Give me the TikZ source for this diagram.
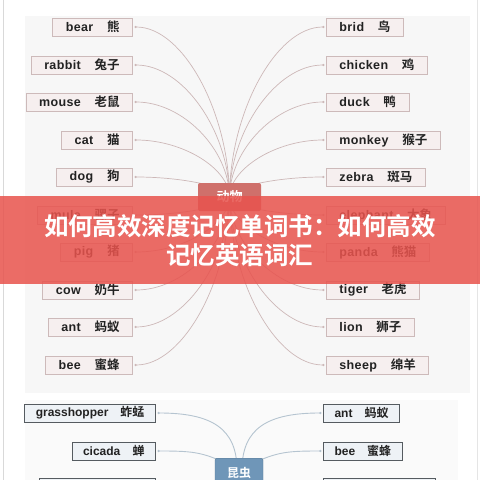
\documentclass[tikz,border=0pt]{standalone}
\usepackage{fontspec}
\setmainfont{Liberation Sans}
\newfontfamily\cjk{Noto Sans CJK SC}[BoldFont={Noto Sans CJK SC Bold}]
\newfontfamily\spaced{Liberation Sans}[LetterSpace=3]
\usetikzlibrary{arrows.meta}
\newcommand\lbl[2]{{\spaced\bfseries #1}\hspace{1.1em}{\cjk\bfseries #2}}
\newcommand\ilbl[2]{\textbf{#1}\hspace{1em}{\cjk\bfseries #2}}
\definecolor{boxfill}{HTML}{F6EFEF}
\definecolor{boxline}{HTML}{CDBABA}
\definecolor{connc}{HTML}{CDB8B8}
\definecolor{txt}{HTML}{222222}
\definecolor{hubfill}{HTML}{CF706B}
\definecolor{bannerc}{RGB}{232,84,78}
\definecolor{bfill}{HTML}{EEF2F6}
\definecolor{bline}{HTML}{555B60}
\definecolor{bconn}{HTML}{B5C4D0}
\definecolor{bluehub}{HTML}{6F96B8}
\pgfdeclarelayer{bg}
\pgfdeclarelayer{lines}
\pgfdeclarelayer{top}
\pgfsetlayers{bg,lines,main,top}
\tikzset{
  abox/.style={draw=boxline, fill=boxfill, line width=0.8pt, minimum height=18pt,
    inner xsep=13pt, inner ysep=0pt, font=\fontsize{12.5}{14}\selectfont, text=txt},
  ibox/.style={draw=bline, fill=bfill, line width=1pt, minimum height=18pt,
    inner xsep=11pt, inner ysep=0pt, font=\fontsize{12}{14}\selectfont, text=txt},
  conn/.style={draw=connc, line width=0.7pt, {Circle[length=2.2pt]}-, shorten <=1.5pt},
  iconn/.style={draw=bconn, line width=0.9pt, {Circle[length=2.2pt]}-, shorten <=1.5pt},
}
\begin{document}
\begin{tikzpicture}[x=1pt,y=-1pt]
\useasboundingbox (0,0) rectangle (480,480);
\clip (0,0) rectangle (480,480);
\begin{pgfonlayer}{bg}
  \fill[white] (0,0) rectangle (480,480);
  \fill[black!3] (25,16) rectangle (470,393);
  \fill[black!2] (25,400) rectangle (458,480);
  \draw[black!15, line width=1pt] (3,0) -- (3,480);
  \draw[black!10, line width=1pt] (477,0) -- (477,480);
\end{pgfonlayer}

% hub
\node[fill=hubfill, rounded corners=2pt, minimum width=63pt, minimum height=28pt,
  text=white, font=\cjk\bfseries\fontsize{13}{15}\selectfont] (hub) at (229.5,197) {动物};

% left boxes
\node[abox, anchor=east] (bear) at (133,27) {\lbl{bear}{熊}};
\node[abox, anchor=east] (rabbit) at (133,65) {\lbl{rabbit}{兔子}};
\node[abox, anchor=east] (mouse) at (133,102) {\lbl{mouse}{老鼠}};
\node[abox, anchor=east] (cat) at (133,140) {\lbl{cat}{猫}};
\node[abox, anchor=east] (dog) at (133,177) {\lbl{dog}{狗}};
\node[abox, anchor=east] (mule) at (133,215) {\lbl{mule}{骡子}};
\node[abox, anchor=east] (pig) at (133,252) {\lbl{pig}{猪}};
\node[abox, anchor=east] (cow) at (133,290) {\lbl{cow}{奶牛}};
\node[abox, anchor=east] (antA) at (133,327) {\lbl{ant}{蚂蚁}};
\node[abox, anchor=east] (beeA) at (133,365) {\lbl{bee}{蜜蜂}};
% right boxes
\node[abox, anchor=west] (brid) at (326,27) {\lbl{brid}{鸟}};
\node[abox, anchor=west] (chicken) at (326,65) {\lbl{chicken}{鸡}};
\node[abox, anchor=west] (duck) at (326,102) {\lbl{duck}{鸭}};
\node[abox, anchor=west] (monkey) at (326,140) {\lbl{monkey}{猴子}};
\node[abox, anchor=west] (zebra) at (326,177) {\lbl{zebra}{斑马}};
\node[abox, anchor=west] (elephant) at (326,215) {\lbl{elephant}{大象}};
\node[abox, anchor=west] (panda) at (326,252) {\lbl{panda}{熊猫}};
\node[abox, anchor=west] (tiger) at (326,290) {\lbl{tiger}{老虎}};
\node[abox, anchor=west] (lion) at (326,327) {\lbl{lion}{狮子}};
\node[abox, anchor=west] (sheep) at (326,365) {\lbl{sheep}{绵羊}};

\begin{pgfonlayer}{lines}
  \foreach \n/\y in {bear/27,rabbit/65,mouse/102,cat/140,dog/177,mule/215,pig/252,cow/290,antA/327,beeA/365}{
    \draw[conn] (\n.east) .. controls +(50,0) and (229,{(\y+197)/2}) .. (hub.center);
  }
  \foreach \n/\y in {brid/27,chicken/65,duck/102,monkey/140,zebra/177,elephant/215,panda/252,tiger/290,lion/327,sheep/365}{
    \draw[conn] (\n.west) .. controls +(-50,0) and (230,{(\y+197)/2}) .. (hub.center);
  }
\end{pgfonlayer}

% insects section
\node[fill=bluehub, draw=bluehub!80!black, rounded corners=2pt, minimum width=48pt, minimum height=32pt,
  text=white, font=\cjk\bfseries\fontsize{12}{14}\selectfont, anchor=north] (insect) at (239,458) {\raisebox{4pt}{昆虫}};
\node[ibox, anchor=east] (grass) at (156,413) {\ilbl{grasshopper}{蚱蜢}};
\node[ibox, anchor=east] (cicada) at (156,451) {\ilbl{cicada}{蝉}};
\node[ibox, anchor=west] (antB) at (323,413) {\ilbl{ant}{蚂蚁}};
\node[ibox, anchor=west] (beeB) at (323,451) {\ilbl{bee}{蜜蜂}};
\node[ibox, anchor=north east, minimum width=116pt] (nextL) at (156,478) {};
\node[ibox, anchor=north west, minimum width=112pt] (nextR) at (323,478) {};
\begin{pgfonlayer}{lines}
  \draw[iconn] (grass.east) .. controls +(55,0) and (237,428) .. (237,470);
  \draw[iconn] (cicada.east) .. controls +(40,0) and (205,452) .. (239,470);
  \draw[iconn] (antB.west) .. controls +(-55,0) and (242,428) .. (242,470);
  \draw[iconn] (beeB.west) .. controls +(-40,0) and (275,452) .. (239,470);
\end{pgfonlayer}

% banner
\begin{pgfonlayer}{top}
  \fill[bannerc, opacity=0.86] (0,196) rectangle (480,284);
  \node[text=white, font=\cjk\bfseries\fontsize{24.5}{29}\selectfont, align=center] (title) at (240,241)
    {如何高效深度记忆单词书：如何高效\\记忆英语词汇};
\end{pgfonlayer}
\end{tikzpicture}
\end{document}
